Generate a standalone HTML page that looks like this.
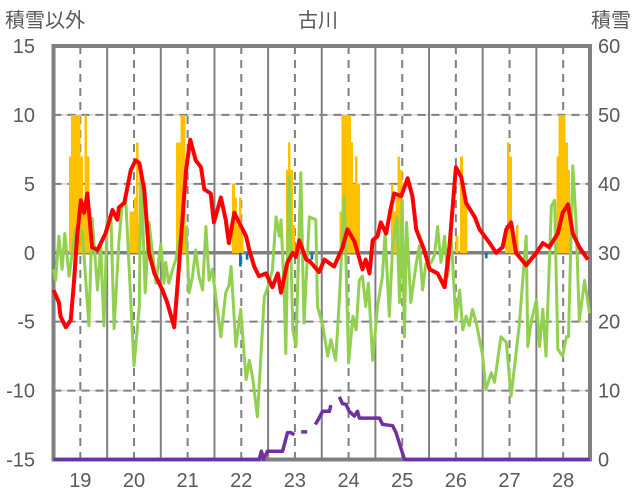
<!DOCTYPE html>
<html><head><meta charset="utf-8"><style>
html,body{margin:0;padding:0;background:#fff;}
svg{display:block;font-family:"Liberation Sans","Noto Sans CJK JP",sans-serif;}
</style></head><body>
<svg id="chart" width="636" height="501" viewBox="0 0 636 501">
<text x="5" y="27" font-size="20" fill="#595959">積雪以外</text>
<text x="318" y="27" font-size="20" fill="#595959" text-anchor="middle">古川</text>
<text x="631" y="27" font-size="20" fill="#595959" text-anchor="end">積雪</text>
<g id="grid"></g>
<g id="bars"></g>
<g id="lines"></g>
<g id="axes"></g>
</svg>
<script>
// ---- data ----
const dayLabels = ["19","20","21","22","23","24","25","26","27","28"];
const leftTicks = [15,10,5,0,-5,-10,-15];
const rightTicks = [60,50,40,30,20,10,0];
const redT = [0,0.10,0.13,0.23,0.32,0.38,0.44,0.51,0.57,0.63,0.72,0.82,0.97,1.10,1.19,1.22,1.32,1.44,1.53,1.60,1.69,1.78,1.88,2.03,2.12,2.25,2.34,2.47,2.55,2.65,2.75,2.81,2.93,2.99,3.12,3.21,3.27,3.37,3.46,3.59,3.65,3.74,3.83,3.96,4.08,4.18,4.24,4.36,4.46,4.52,4.58,4.71,4.77,4.95,5.05,5.23,5.39,5.48,5.61,5.76,5.82,5.89,5.95,6.04,6.10,6.20,6.29,6.35,6.48,6.60,6.69,6.76,6.91,7.01,7.16,7.29,7.38,7.50,7.60,7.69,7.85,7.94,8.13,8.25,8.37,8.44,8.53,8.62,8.81,9.00,9.12,9.24,9.40,9.49,9.59,9.68,9.80,9.96];
const redV = [-2.7,-3.6,-4.6,-5.4,-4.9,-2.2,1.2,3.8,2.9,4.3,0.4,0.2,1.4,3.1,2.4,3.3,3.6,6.0,6.7,6.5,4.6,0,-1.5,-2.7,-3.6,-5.4,-1.0,6.0,8.2,6.7,6.2,4.6,4.3,2.2,4.0,2.4,0.7,2.9,2.2,1.2,0.2,-1.0,-1.7,-1.5,-2.5,-1.5,-2.9,-0.7,0,-0.3,0.9,-0.5,-0.6,-1.4,-0.5,-1.0,0.4,1.7,0.8,-1.2,-0.5,-1.5,0.9,1.2,2.2,1.4,3.3,4.3,4.1,5.4,4.1,1.7,0.2,-1.2,-1.5,-2.5,0.4,6.2,5.5,3.6,2.6,1.7,0.7,0,0.4,1.7,2.2,0,-0.9,0,0.7,0.4,1.4,2.9,3.5,1.4,0.4,-0.5];
const greenT = [0,0.04,0.10,0.16,0.21,0.29,0.41,0.48,0.54,0.66,0.72,0.82,0.88,0.94,1.00,1.07,1.13,1.22,1.28,1.35,1.50,1.60,1.63,1.71,1.78,1.91,2.00,2.06,2.09,2.15,2.22,2.28,2.34,2.40,2.47,2.53,2.59,2.65,2.71,2.78,2.84,2.90,2.96,3.12,3.21,3.27,3.31,3.40,3.49,3.59,3.65,3.71,3.80,3.93,4.02,4.08,4.15,4.21,4.24,4.30,4.33,4.39,4.46,4.52,4.61,4.67,4.77,4.89,4.92,5.02,5.11,5.17,5.26,5.33,5.42,5.50,5.58,5.64,5.70,5.76,5.82,5.87,5.95,6.04,6.13,6.18,6.26,6.32,6.40,6.45,6.50,6.54,6.58,6.66,6.76,6.82,6.88,6.94,7.04,7.10,7.16,7.22,7.29,7.35,7.41,7.50,7.57,7.63,7.69,7.75,7.81,7.88,8.00,8.06,8.16,8.22,8.34,8.44,8.53,8.68,8.81,8.84,8.90,9.00,9.06,9.12,9.18,9.28,9.34,9.40,9.49,9.56,9.60,9.68,9.74,9.80,9.90,9.99];
const greenV = [-1.2,-2.0,1.2,-1.2,1.4,-1.7,1.7,1.9,1.4,-5.3,2.5,-2.7,0.5,-5.3,2.4,2.6,-5.5,0.9,3.6,3.6,-8.2,-3.9,6.3,-2.9,2.2,-2.2,0.6,-2.2,-0.7,-2.2,-1.2,-0.5,0.9,1.9,1.7,-2.9,-1.7,0.2,-1.7,-2.7,1.9,-2.0,-1.2,-6.1,-2.9,-2.4,-1.0,-6.8,-4.1,-9.2,-7.8,-9.0,-11.9,-3.2,-2.2,-1.2,2.6,1.2,2.4,-2.7,-7.3,5.5,-5.6,-6.8,5.8,-5.1,2.6,2.4,-3.9,-5.3,-7.5,-6.3,-7.8,-3.2,4.1,-8.0,-4.6,-5.6,-2.0,-1.7,-3.9,-2.2,-7.8,-3.9,-1.7,1.4,-4.6,0.5,2.6,-3.6,3.8,-6.1,2.2,-3.6,-0.8,0.5,-2.7,-0.8,-0.7,-0.2,1.9,-0.7,1.2,-1.7,1.4,-4.9,-2.7,-5.6,-4.6,-5.3,-4.1,-5.1,-7.5,-9.9,-8.7,-9.4,-6.1,-6.5,-10.4,-5.3,1.2,-6.8,-5.1,-3.4,-6.8,-4.1,-7.5,3.4,3.8,-7.0,-7.5,-6.1,-6.1,6.3,2.2,-4.9,-2.0,-4.4];
const snowH = [7,8,9,10,11,12,13,14,15, 34,35,36,37,38, 55,56,57,58,59, 80,81,82,83,84, 104,105,106,107, 128,129,130,131,132,133,134,135,136, 151,152,153,154,155, 180,182,183,184, 202,203,204,205,207, 225,226,227,228,229,230];
const snowV = [7,10,10,10,10,7,3,10,7, 3,3,4,8,2, 8,8,10,10,2, 5,4,2,4,1.3, 6,8,6,2, 3,10,10,10,10,8,5,7,5, 5,3,4,7,6, 1.2,7,4,4, 2,8,7,2,2, 7,10,10,10,8,6];
const blueH = [83,86,115,193];
const blueV = [-1.0,-0.5,-0.5,-0.4];
const depthH = [0,92,93,94,95.7,102.5,104.7,106.2,107.7,109,110.8,113.5,115,117.1,118.1,120.4,123.4,124.1,126,127.9,129.3,130.9,132.3,134.6,136,136.8,145.8,147.2,151.7,153.2,157,240];
const depthV = [0,0,1.2,0,1.2,1.2,3.9,3.9,3.6,null,4.0,4.0,null,5.1,5.6,7.0,7.0,7.9,null,9.1,8.1,8.0,7.0,6.3,7.0,6.0,6.0,5.1,4.9,3.9,0,0];

// ---- scales ----
const X0=53.5, X1=590, Y0=46, Y1=459.5;
const xDay = d => X0 + (X1-X0)*d/10;
const xHour = h => xDay(h/24);
const yL = v => Y1 - (v+15)/30*(Y1-Y0);
const yR = v => Y1 - v/60*(Y1-Y0);
const NS="http://www.w3.org/2000/svg";
function mk(tag, attrs, parent){const e=document.createElementNS(NS,tag);for(const k in attrs)e.setAttribute(k,attrs[k]);parent.appendChild(e);return e;}
const grid=document.getElementById('grid'), bars=document.getElementById('bars'), lines=document.getElementById('lines'), axes=document.getElementById('axes');

leftTicks.forEach(v=>{
  if(v===15||v===-15||v===0)return;
  const y=yL(v);
  const l1=mk('line',{x1:X0,x2:X1,y1:y,y2:y,stroke:'#d9d9d9','stroke-width':1.5},grid);
  
  
  const l2=mk('line',{x1:X0,x2:X1,y1:y,y2:y,stroke:'#808080','stroke-width':2,'stroke-dasharray':'8,6'},grid);
  
  
});
for(let d=1;d<10;d++){
  const l=mk('line',{x1:xDay(d),x2:xDay(d),y1:Y0,y2:Y1,stroke:'#808080','stroke-width':2},grid);
  
  
}
dayLabels.forEach((lab,i)=>{
  const x=xDay(i+0.5);
  const l=mk('line',{x1:x,x2:x,y1:Y0,y2:Y1,stroke:'#808080','stroke-width':2,'stroke-dasharray':'8,6'},grid);
  
  
  const t=mk('text',{x:x,y:487,'font-size':20,fill:'#595959','text-anchor':'middle'},axes);
  t.textContent=lab;
  
  
});
const z=mk('line',{x1:X0,x2:X1,y1:yL(0),y2:yL(0),stroke:'#808080','stroke-width':3.5},grid);



const bw=(X1-X0)/240;
snowH.forEach((h,i)=>{
  const v=snowV[i];
  const r=mk('rect',{x:xHour(h)-0.2,y:yL(v),width:bw+0.4,height:yL(0)-yL(v),fill:'#ffc000','shape-rendering':'crispEdges'},bars);
  
  
});
blueH.forEach((h,i)=>{
  const v=blueV[i];
  const r=mk('rect',{x:xHour(h),y:yL(0),width:bw+0.4,height:yL(v)-yL(0),fill:'#0070c0'},bars);
  
  
});

function pathFrom(ts,vs,fx,fy){
  let d='',pen=false;
  ts.forEach((t,i)=>{const v=vs[i];if(v===null){pen=false;return;}d+=(pen?'L':'M')+fx(t).toFixed(1)+','+fy(v).toFixed(1);pen=true;});
  return d;
}
const g=mk('path',{d:pathFrom(greenT,greenV,xDay,yL),fill:'none',stroke:'#92d050','stroke-width':3,'stroke-linejoin':'round'},lines);


const r=mk('path',{d:pathFrom(redT,redV,xDay,yL),fill:'none',stroke:'#ff0000','stroke-width':4,'stroke-linejoin':'round'},lines);



const fr=mk('rect',{x:X0,y:Y0,width:X1-X0,height:Y1-Y0,fill:'none',stroke:'#808080','stroke-width':4},axes);



const p=mk('path',{d:pathFrom(depthH,depthV,xHour,yR),fill:'none',stroke:'#7030a0','stroke-width':3.5,'stroke-linejoin':'round'},lines);


lines.parentNode.appendChild(lines);

leftTicks.forEach(v=>{
  const t=mk('text',{x:35,y:yL(v)+7,'font-size':20,fill:'#595959','text-anchor':'end'},axes);
  t.textContent=v;
  
  
});
rightTicks.forEach(v=>{
  const t=mk('text',{x:598,y:yR(v)+7,'font-size':20,fill:'#595959'},axes);
  t.textContent=v;
  
  
});
</script>
</body></html>
